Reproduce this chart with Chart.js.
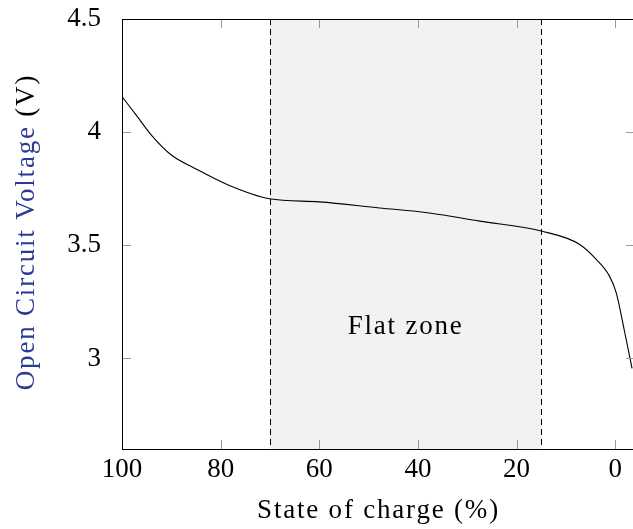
<!DOCTYPE html>
<html>
<head>
<meta charset="utf-8">
<script src="https://cdn.jsdelivr.net/npm/chart.js@4"></script>
<style>
  html, body { margin: 0; padding: 0; background: #fff; overflow: hidden; }
  #wrap { width: 645px; height: 529px; }
</style>
</head>
<body>
<div id="wrap"><canvas id="ocv"></canvas></div>
<script>
// données
const soc = [100, 97, 94, 90, 85.3, 78.6, 70.1, 60, 47.8, 37.7, 27.5, 15, 7.2, 3.9, 1.2, -0.2, -1.9, -3.4];
const ocv = [4.157, 4.072, 3.986, 3.899, 3.841, 3.768, 3.706, 3.692, 3.665, 3.643, 3.607, 3.563, 3.504, 3.439, 3.365, 3.29, 3.117, 2.956];
const xTicks = [0, 20, 40, 60, 80, 100];
const yTicks = [3, 3.5, 4, 4.5];
const yTickLabels = ['3', '3.5', '4', '4.5'];
const flatZone = [70, 15];   // limites de la zone plate
const flatLabel = 'Flat zone';
const flatLabelPos = [42.5, 3.14];

const serif = '"Liberation Serif", "DejaVu Serif", serif';
const fontSize = 27;

// écrire un texte d'une couleur donnée
function colText(ctx, txt, x, y, color) {
  ctx.fillStyle = color;
  ctx.fillText(txt, x, y);
}

const zonePlugin = {
  id: 'zone',
  beforeDatasetsDraw(chart) {
    const { ctx, chartArea: a, scales: { x, y } } = chart;
    const x1 = x.getPixelForValue(flatZone[0]);
    const x2 = x.getPixelForValue(flatZone[1]);
    ctx.save();
    // zone grise
    ctx.fillStyle = '#f2f2f2';
    ctx.fillRect(x1, a.top, x2 - x1, a.bottom - a.top);
    // traits pointillés
    ctx.strokeStyle = '#000';
    ctx.lineWidth = 1;
    ctx.setLineDash([6, 4]);
    [x1, x2].forEach(px => {
      ctx.beginPath();
      ctx.moveTo(Math.round(px) + 0.5, a.top);
      ctx.lineTo(Math.round(px) + 0.5, a.bottom);
      ctx.stroke();
    });
    ctx.setLineDash([]);
    // texte "Flat zone"
    ctx.font = fontSize + 'px ' + serif;
    ctx.letterSpacing = '1.8px';
    ctx.textAlign = 'center';
    ctx.textBaseline = 'middle';
    colText(ctx, flatLabel, x.getPixelForValue(flatLabelPos[0]), y.getPixelForValue(flatLabelPos[1]), '#000');
    ctx.restore();
  },
  afterDatasetsDraw(chart) {
    const { ctx, chartArea: a, scales: { x, y } } = chart;
    ctx.save();
    // graduations vers l'intérieur
    ctx.strokeStyle = '#999';
    ctx.lineWidth = 1;
    const len = 9;
    xTicks.forEach(v => {
      const px = Math.round(x.getPixelForValue(v)) + 0.5;
      ctx.beginPath();
      ctx.moveTo(px, a.bottom); ctx.lineTo(px, a.bottom - len);
      ctx.moveTo(px, a.top); ctx.lineTo(px, a.top + len);
      ctx.stroke();
    });
    yTicks.forEach(v => {
      const py = Math.round(y.getPixelForValue(v)) + 0.5;
      ctx.beginPath();
      ctx.moveTo(a.left, py); ctx.lineTo(a.left + len, py);
      ctx.moveTo(a.right, py); ctx.lineTo(a.right - len, py);
      ctx.stroke();
    });
    // cadre
    ctx.strokeStyle = '#000';
    ctx.strokeRect(Math.round(a.left) + 0.5, Math.round(a.top) + 0.5,
      Math.round(a.right - a.left), Math.round(a.bottom - a.top));

    ctx.font = fontSize + 'px ' + serif;
    ctx.letterSpacing = '1.8px';
    ctx.textBaseline = 'middle';
    // titre de l'axe x
    ctx.textAlign = 'center';
    colText(ctx, 'State of charge (%)', (a.left + a.right) / 2, 511, '#000');
    // titre de l'axe y en deux couleurs
    ctx.translate(27, 232);
    ctx.rotate(-Math.PI / 2);
    const p1 = 'Open Circuit Voltage ';
    const p2 = '(V)';
    const w1 = ctx.measureText(p1).width;
    const w2 = ctx.measureText(p2).width;
    const start = -(w1 + w2) / 2;
    ctx.textAlign = 'left';
    colText(ctx, p1, start, 0, '#2b3a94');
    colText(ctx, p2, start + w1, 0, '#000');
    ctx.restore();
  }
};

new Chart(document.getElementById('ocv'), {
  type: 'line',
  data: {
    datasets: [{
      data: soc.map((s, i) => ({ x: s, y: ocv[i] })),
      borderColor: '#000',
      borderWidth: 1.1,
      pointRadius: 0,
      cubicInterpolationMode: 'monotone',
      fill: false
    }]
  },
  options: {
    responsive: true,
    maintainAspectRatio: false,
    animation: false,
    layout: { padding: { top: 19, right: 10, left: 0, bottom: 0 } },
    plugins: { legend: { display: false }, tooltip: { enabled: false } },
    scales: {
      x: {
        type: 'linear',
        reverse: true,
        min: -4,
        max: 100,
        afterBuildTicks: s => { s.ticks = xTicks.map(v => ({ value: v })); },
        afterFit: s => { s.height = 80; s.paddingLeft = 0; s.paddingRight = 0; },
        grid: { display: false },
        border: { display: false },
        ticks: { color: '#000', font: { family: serif, size: fontSize }, padding: -3, maxRotation: 0 }
      },
      y: {
        min: 2.6,
        max: 4.5,
        afterBuildTicks: s => { s.ticks = yTicks.map(v => ({ value: v })); },
        afterFit: s => { s.width = 122; s.paddingTop = 0; s.paddingBottom = 0; },
        grid: { display: false },
        border: { display: false },
        ticks: {
          color: '#000', font: { family: serif, size: fontSize }, padding: 13,
          callback: (v) => yTickLabels[yTicks.indexOf(v)]
        }
      }
    }
  },
  plugins: [zonePlugin]
});
</script>
</body>
</html>
